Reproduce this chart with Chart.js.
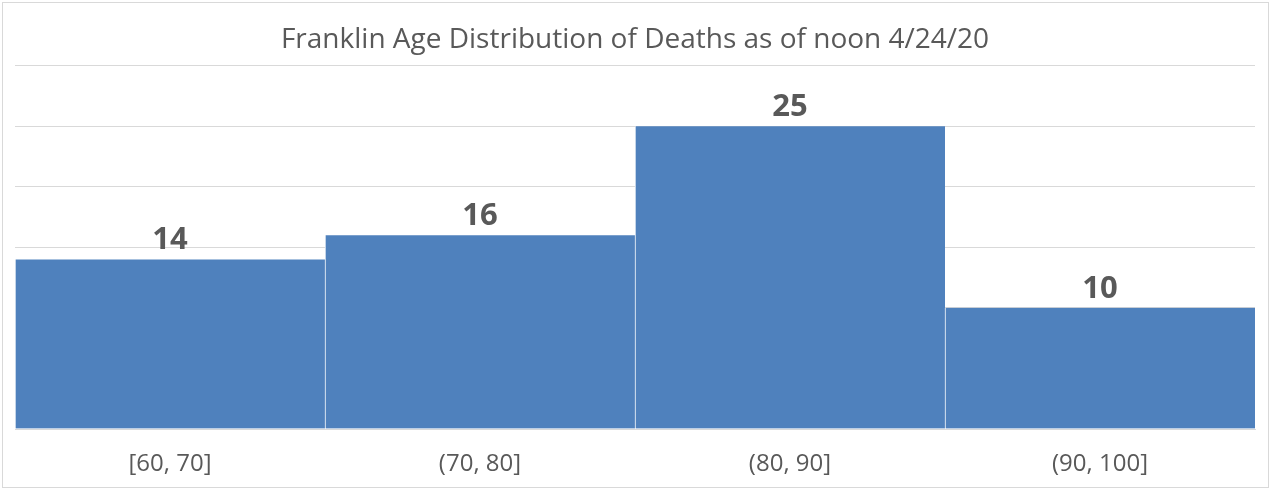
<!DOCTYPE html>
<html>
<head>
<meta charset="utf-8">
<script src="https://cdn.jsdelivr.net/npm/chart.js@4"></script>
<style>
  html, body { margin: 0; padding: 0; background: #fff; }
  #wrap { position: absolute; left: 0; top: 0; width: 1272px; height: 490px; }
</style>
</head>
<body>
<div id="wrap"><canvas id="chartCanvas" width="1272" height="490"></canvas></div>
<script>
const ageBins = ["[60, 70]", "(70, 80]", "(80, 90]", "(90, 100]"];
const deaths = [14, 16, 25, 10];
const titleText = "Franklin Age Distribution of Deaths as of noon 4/24/20";

const textGray = "#595959";
const gridGray = "#d9d9d9";
const barBlue = "#4f81bd";

// outer frame round the whole chart
const framePlugin = {
  id: "frame",
  beforeDraw: (chart) => {
    let ctx = chart.ctx;
    ctx.save();
    ctx.fillStyle = "#fff";
    ctx.fillRect(0, 0, chart.width, chart.height);
    ctx.strokeStyle = gridGray;
    ctx.lineWidth = 1;
    ctx.strokeRect(2.5, 2.5, chart.width - 6, chart.height - 5);
    ctx.restore();
  }
};

// value labels above each bar
const valueLabels = {
  id: "valueLabels",
  afterDatasetsDraw: (chart) => {
    let ctx = chart.ctx;
    let meta = chart.getDatasetMeta(0);
    ctx.save();
    ctx.font = "bold 31px 'Open Sans'";
    ctx.fillStyle = textGray;
    ctx.textAlign = "center";
    ctx.textBaseline = "alphabetic";
    meta.data.forEach((bar, i) => {
      ctx.fillText(String(deaths[i]), bar.x, bar.y - 10);
    });
    ctx.restore();
  }
};

let chart = new Chart(document.getElementById("chartCanvas"), {
  type: "bar",
  data: {
    labels: ageBins,
    datasets: [{
      label: "Deaths",
      data: deaths,
      backgroundColor: barBlue,
      borderColor: "#ffffff",
      borderWidth: { left: 1, right: 0, top: 0, bottom: 0 },
      borderSkipped: false,
      categoryPercentage: 1.0,
      barPercentage: 1.0
    }]
  },
  options: {
    responsive: false,
    animation: false,
    layout: { padding: { left: 15, right: 17, top: 0, bottom: 11 } },
    plugins: {
      legend: { display: false },
      tooltip: { enabled: false },
      title: {
        display: true,
        text: titleText,
        color: textGray,
        font: { family: "'Open Sans'", size: 28, weight: "normal" },
        padding: { top: 23, bottom: 9 }
      }
    },
    scales: {
      x: {
        grid: { display: false, drawTicks: false },
        border: { display: true, color: gridGray },
        ticks: {
          color: textGray,
          font: { family: "'Open Sans'", size: 24 },
          padding: 21
        },
        afterFit: (scale) => { scale.height = 50; }
      },
      y: {
        min: 0,
        max: 30,
        ticks: { display: false, stepSize: 5 },
        grid: { color: gridGray, drawTicks: false },
        border: { display: false }
      }
    }
  },
  plugins: [framePlugin, valueLabels]
});
</script>
</body>
</html>
